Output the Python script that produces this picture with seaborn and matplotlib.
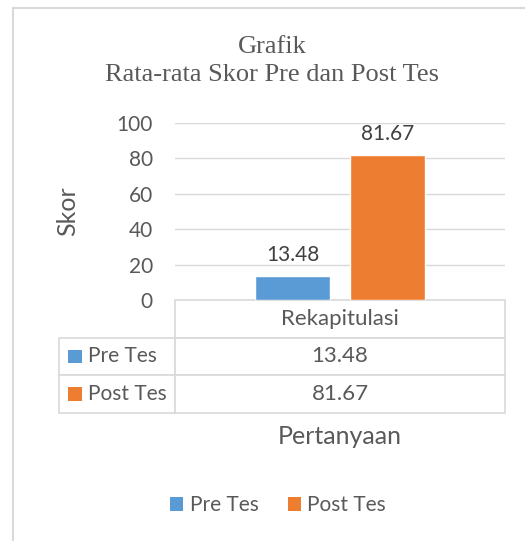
import pandas as pd
import matplotlib.pyplot as plt
from matplotlib.patches import Patch, Rectangle
import seaborn as sns

# %%

kategori = ['Rekapitulasi']
tes = ['Pre Tes', 'Post Tes']
skor = [13.48, 81.67]
warna = ['#5B9BD5', '#ED7D31']
yticks = [0, 20, 40, 60, 80, 100]

df = pd.DataFrame({'kategori': kategori * len(tes), 'tes': tes, 'skor': skor})

# %%

sns.set_theme(style='white')
plt.rcParams['font.family'] = ['Lato', 'DejaVu Sans']
abu = '#595959'
garis = '#D9D9D9'

W, H = 525, 541
fig = plt.figure(figsize=(W / 100, H / 100), dpi=100)

# plot area in pixels: x 175..505, y 123..300
ax = fig.add_axes([175 / W, 1 - 300 / H, 330 / W, 177 / H])

sns.barplot(data=df, x='kategori', y='skor', hue='tes', hue_order=tes,
            palette=warna, width=0.576, gap=0.22, saturation=1,
            legend=False, ax=ax)
ax.set_xlim(-0.5, 0.5)
ax.set_ylim(0, 100)
ax.set_yticks(yticks)
ax.set_yticklabels([str(t) for t in yticks], fontsize=15, color=abu)
ax.tick_params(axis='y', length=0, pad=16)
ax.set_xticks([])
ax.set_xlabel('')
ax.set_ylabel('Skor', fontsize=18, color=abu, labelpad=27)
ax.grid(axis='y', color=garis, linewidth=1)
ax.set_axisbelow(True)
for s in ax.spines.values():
    s.set_visible(False)

for c in ax.containers:
    ax.bar_label(c, fmt='%.2f', padding=8, fontsize=15, color='#404040')

# %%  data table below the axis

lebar_label = 116 / 330
tinggi = 113 / 177
bawah = -tinggi
cell_text = [[t, f'{v:.2f}'] for t, v in zip(tes, skor)]
tbl = ax.table(cellText=cell_text, colLabels=[''] + kategori,
               colWidths=[lebar_label, 1.0], cellLoc='center',
               bbox=[-lebar_label, bawah, 1 + lebar_label, tinggi])
tbl.auto_set_font_size(False)
tbl.set_fontsize(16)
for (r, c), cell in tbl.get_celld().items():
    cell.set_edgecolor(garis)
    cell.set_linewidth(1.2)
    cell.get_text().set_color(abu)
    if r == 0 and c == 0:
        cell.visible_edges = ''
    if c == 0 and r > 0:
        cell.get_text().set_ha('left')
        cell.get_text().set_fontsize(15)
        cell._loc = 'left'
        cell.PAD = 0.25

n_baris = len(tes) + 1
for i, w in enumerate(warna):
    yc = bawah + tinggi * (n_baris - 1.5 - i) / n_baris
    ax.add_patch(Rectangle((-lebar_label + 0.028, yc - 0.038), 0.041, 0.076,
                           transform=ax.transAxes, clip_on=False,
                           facecolor=w, edgecolor='none'))

fig.text(340 / W, 1 - 436 / H, 'Pertanyaan', fontsize=18, color=abu,
         ha='center', va='center')

# %%  title, legend, frame

fig.text(272 / W, 1 - 61 / H, 'Grafik\nRata-rata Skor Pre dan Post Tes',
         family='Liberation Serif', fontsize=19, color=abu,
         ha='center', va='center', linespacing=1.35)

handles = [Patch(facecolor=w, edgecolor='none', label=t) for t, w in zip(tes, warna)]
leg = fig.legend(handles=handles, loc='center', bbox_to_anchor=(278 / W, 1 - 505 / H),
                 ncol=2, frameon=False, fontsize=15, handlelength=0.65,
                 handleheight=0.65, handletextpad=0.3, columnspacing=1.4)
for t in leg.get_texts():
    t.set_color(abu)

fig.add_artist(Rectangle((13 / W, -0.1), 2, 1 - 8 / H + 0.1,
                         transform=fig.transFigure, facecolor='none',
                         edgecolor=garis, linewidth=1.5))

plt.savefig('out.png', dpi=100)
